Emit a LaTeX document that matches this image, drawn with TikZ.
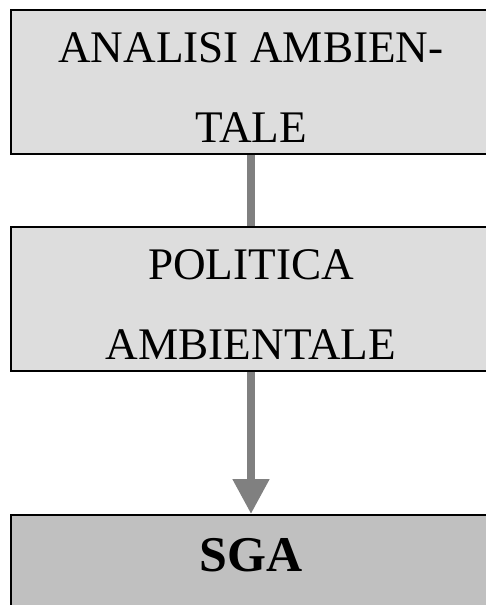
\documentclass[tikz,border=0pt]{standalone}
\usepackage{fontspec}
\setmainfont{Liberation Serif}
\usetikzlibrary{arrows.meta}

\definecolor{boxgray}{HTML}{DDDDDD}
\definecolor{sgagray}{HTML}{C0C0C0}
\definecolor{linkgray}{HTML}{808080}

\tikzset{
  stepbox/.style={draw=black, line width=0.8pt, fill=boxgray,
    minimum width=240pt, minimum height=72pt, inner sep=0pt,
    align=center, text height=60pt, text depth=0pt,
    font=\fontsize{22.6}{40}\selectfont},
  sgabox/.style={stepbox, fill=sgagray, anchor=north,
    text height=17pt, text depth=32pt, inner ysep=11.5pt, minimum height=0pt,
    font=\fontsize{25}{28}\selectfont\bfseries},
  link/.style={draw=linkgray, line width=4pt}
}

\begin{document}
\begin{tikzpicture}[x=0.5pt,y=-0.5pt]
\clip (0,0) rectangle (486,605);

\node[stepbox] (analisi) at (251,82) {ANALISI AMBIEN-\\TALE};
\node[stepbox] (politica) at (251,299) {POLITICA\\AMBIENTALE};
\node[sgabox] (sga) at (251,514) {SGA};

\draw[link] (analisi.south) -- (politica.north);
\draw[link, -{Triangle[width=17.5pt,length=17.5pt]}] (politica.south) -- (sga.north);% arrow into SGA

\end{tikzpicture}
\end{document}
